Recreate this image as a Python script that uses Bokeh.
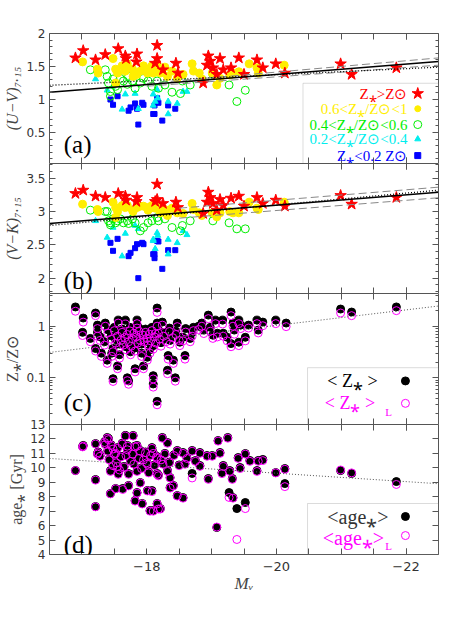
from bokeh.plotting import figure
from bokeh.layouts import column
from bokeh.models import Range1d, FixedTicker, LinearAxis, LogAxis, Label, BoxAnnotation
from bokeh.embed import file_html
from bokeh.resources import INLINE

# ---------------- data: panels (a) and (b) ----------------
MV_red = [-16.90, -17.02, -17.21, -17.36, -17.56, -17.67, -17.68, -17.85, -17.84, -18.16, -18.16,
          -18.13, -18.25, -18.45, -18.48, -18.87, -18.95, -18.93, -18.98, -19.02, -19.08, -19.13,
          -19.18, -19.30, -19.42, -19.50, -19.70, -19.79, -19.99, -20.13, -20.99, -21.16, -21.85]
UV_red = [1.63, 1.74, 1.60, 1.68, 1.77, 1.66, 1.62, 1.69, 1.57, 1.82, 1.62,
          1.55, 1.45, 1.55, 1.40, 1.25, 1.66, 1.52, 1.58, 1.48, 1.38, 1.62,
          1.45, 1.48, 1.63, 1.38, 1.60, 1.48, 1.54, 1.40, 1.54, 1.38, 1.48]
VK_red = [3.27, 3.32, 3.23, 3.21, 3.27, 3.23, 3.17, 3.21, 3.15, 3.41, 3.18,
          3.15, 3.12, 3.14, 3.06, 2.97, 3.29, 3.14, 3.21, 3.12, 3.02, 3.18,
          3.09, 3.20, 3.23, 3.08, 3.21, 3.12, 3.17, 3.08, 3.24, 3.11, 3.21]

MV_yel = [-17.01, -17.24, -17.25, -17.48, -17.52, -17.55, -17.62, -17.67, -17.70, -17.78, -17.79,
          -17.85, -17.90, -17.95, -18.01, -18.02, -18.08, -18.10, -18.16, -18.18, -17.52, -18.13,
          -18.21, -18.28, -18.32, -18.39, -18.47, -18.56, -18.70, -18.72, -18.81, -18.85, -19.01,
          -19.08, -19.13, -19.28, -19.33, -19.42, -19.58, -19.70, -19.72, -20.12]
UV_yel = [1.57, 1.46, 1.40, 1.62, 1.46, 1.40, 1.51, 1.43, 1.54, 1.46, 1.35,
          1.38, 1.43, 1.51, 1.40, 1.46, 1.51, 1.40, 1.54, 1.43, 1.25, 1.46,
          1.40, 1.49, 1.35, 1.43, 1.32, 1.38, 1.54, 1.43, 1.40, 1.31, 1.40,
          1.22, 1.32, 1.37, 1.40, 1.42, 1.54, 1.48, 1.40, 1.52]
VK_yel = [3.11, 3.03, 3.00, 3.14, 3.06, 3.00, 3.09, 3.06, 3.09, 3.02, 3.00,
          3.06, 3.08, 3.08, 3.06, 3.02, 3.09, 3.06, 3.09, 3.06, 2.91, 3.05,
          2.98, 3.03, 2.94, 3.05, 2.98, 2.97, 3.12, 3.03, 2.98, 2.94, 2.98,
          2.92, 2.98, 3.00, 2.98, 2.98, 3.14, 3.05, 3.03, 3.14]

MV_grn = [-17.13, -17.36, -17.39, -17.41, -17.44, -17.48, -17.52, -17.55, -17.59, -17.64, -17.70,
          -17.72, -17.78, -17.82, -17.90, -17.95, -18.02, -18.08, -18.16, -18.18, -17.44, -18.28,
          -18.39, -18.52, -18.55, -18.67, -19.02, -19.27, -19.39, -19.52]
UV_grn = [1.45, 1.45, 1.35, 1.25, 1.12, 1.31, 1.20, 1.15, 1.32, 1.28, 1.23,
          1.35, 1.28, 1.17, 1.25, 1.32, 1.28, 1.20, 1.28, 1.17, 1.05, 1.22,
          1.11, 1.09, 1.28, 1.22, 1.38, 1.22, 0.97, 1.14]
VK_grn = [3.02, 3.00, 3.00, 2.86, 2.83, 2.89, 2.83, 2.86, 2.89, 2.83, 2.86,
          2.82, 2.89, 2.83, 2.71, 2.76, 2.83, 2.86, 2.91, 2.86, 2.80, 2.89,
          2.76, 2.71, 2.79, 2.86, 2.86, 2.83, 2.74, 2.74]

MV_cyn = [-17.21, -17.39, -17.48, -17.62, -17.67, -17.82, -17.87, -18.10, -18.13, -18.16, -18.17,
          -18.10, -18.33, -18.47, -18.33, -18.62, -18.56]
UV_cyn = [1.31, 1.14, 1.20, 0.85, 1.08, 1.09, 0.86, 1.08, 0.97, 1.15, 1.02,
          0.91, 0.97, 0.94, 0.78, 1.12, 1.12]
VK_cyn = [2.86, 2.61, 2.76, 2.33, 2.67, 2.79, 2.74, 2.56, 2.44, 2.68, 2.64,
          2.58, 2.58, 2.53, 2.36, 2.65, 2.71]

MV_blu = [-17.44, -17.48, -17.55, -17.72, -17.75, -17.82, -17.85, -17.87, -17.93, -17.95, -18.10,
          -18.16, -18.18, -18.12, -18.12, -18.33, -18.44, -18.24]
UV_blu = [1.00, 0.92, 1.05, 0.83, 0.88, 0.94, 0.86, 0.62, 0.95, 0.92, 0.78,
          1.02, 0.95, 0.91, 0.78, 0.91, 0.86, 0.68]
VK_blu = [2.53, 2.41, 2.59, 2.33, 2.38, 2.45, 2.51, 2.00, 2.53, 2.51, 2.36,
          2.56, 2.55, 2.36, 2.30, 2.42, 2.42, 2.14]

FIT_MV = [-16.5, -22.5]
UV_fit = [1.108, 1.575]
UV_fit_dot = [1.215, 1.49]
VK_fit = [2.82, 3.29]
VK_fit_dot = [2.79, 3.32]
DASH_MV_a = [-18.0, -22.5]
UV_fit_hi = [1.243, 1.63]
UV_fit_lo = [1.202, 1.52]
DASH_MV_b = [-18.5, -22.5]
VK_fit_hi = [3.05, 3.365]
VK_fit_lo = [2.90, 3.206]

# ---------------- data: panel (c) ----------------
MV_c = [-16.90, -17.02, -17.01, -17.21, -17.13, -17.24, -17.24, -17.21, -17.36, -17.39, -17.48,
        -17.55, -17.48, -17.56, -17.67, -17.70, -17.72, -17.85, -17.85, -17.82, -17.95, -18.01,
        -18.10, -18.10, -18.16, -18.16, -18.16, -18.24, -18.13, -18.33, -18.44, -18.32, -18.47,
        -18.56, -18.67, -18.72, -18.85, -18.95, -18.98, -19.06, -19.17, -19.30, -19.33, -19.35,
        -19.30, -19.42, -19.52, -19.45, -19.57, -19.70, -19.79, -19.72, -19.99, -20.15, -18.59,
        -18.41, -18.51, -18.36, -19.09, -19.18, -19.24, -19.42, -18.88, -19.02, -20.99, -21.16,
        -21.85,
        -17.40, -17.45, -17.50, -17.52, -17.55, -17.58, -17.60, -17.62, -17.64, -17.66, -17.68,
        -17.70, -17.72, -17.74, -17.76, -17.78, -17.80, -17.82, -17.84, -17.86, -17.88, -17.90,
        -17.92, -17.94, -17.96, -17.98, -18.00, -18.02, -18.04, -18.06, -18.08, -18.10, -18.12,
        -18.14, -18.18, -18.20, -18.22, -18.26, -18.30, -18.35, -18.40, -18.45, -18.50, -18.60,
        -18.70, -18.80, -17.30, -17.35, -17.46, -17.58, -17.75, -17.92, -18.05, -17.28]
Z_mean = [2.36, 1.44, 0.76, 1.80, 0.58, 1.05, 0.76, 0.37, 1.15, 0.22, 0.37,
          0.17, 0.096, 1.31, 1.31, 0.10, 0.087, 1.31, 1.05, 0.15, 0.17, 0.25,
          0.11, 0.076, 1.15, 0.035, 2.25, 1.20, 0.84, 0.27, 0.10, 0.14, 1.15,
          0.61, 0.58, 0.95, 1.15, 1.64, 0.95, 1.31, 1.31, 1.88, 1.15, 0.84,
          0.46, 1.31, 0.61, 1.05, 1.05, 1.31, 1.20, 0.84, 1.31, 1.15, 0.27,
          0.22, 0.49, 0.53, 0.73, 0.73, 0.61, 0.49, 0.84, 0.67, 2.15, 1.88,
          2.36,
          0.85, 0.65, 0.95, 0.55, 0.75, 0.45, 0.62, 0.88, 0.50, 0.70, 0.40,
          0.80, 0.58, 0.95, 0.48, 0.66, 0.85, 0.38, 0.72, 0.55, 0.92, 0.62,
          0.45, 0.78, 0.58, 0.88, 0.68, 0.50, 0.82, 0.60, 0.95, 0.42, 0.72,
          0.55, 0.85, 0.65, 0.48, 0.75, 0.58, 0.92, 0.70, 0.80, 0.62, 0.90,
          0.75, 1.00, 0.30, 0.50, 0.30, 0.28, 0.32, 0.30, 0.35, 0.62]
Z_lum = [1.95, 1.20, 0.66, 1.60, 0.50, 0.90, 0.64, 0.33, 1.00, 0.19, 0.32,
         0.15, 0.085, 1.15, 1.10, 0.088, 0.075, 1.12, 0.92, 0.13, 0.15, 0.22,
         0.095, 0.066, 1.00, 0.030, 1.85, 1.05, 0.72, 0.23, 0.086, 0.12, 0.98,
         0.52, 0.50, 0.82, 1.00, 1.40, 0.80, 1.12, 1.10, 1.60, 1.00, 0.70,
         0.40, 1.12, 0.52, 0.90, 0.92, 1.12, 1.02, 0.74, 1.12, 0.98, 0.23,
         0.19, 0.42, 0.45, 0.62, 0.64, 0.52, 0.42, 0.72, 0.58, 1.80, 1.60,
         2.00,
         0.74, 0.56, 0.82, 0.47, 0.64, 0.39, 0.53, 0.76, 0.43, 0.60, 0.35,
         0.69, 0.50, 0.81, 0.41, 0.57, 0.73, 0.33, 0.62, 0.47, 0.79, 0.53,
         0.39, 0.67, 0.50, 0.76, 0.58, 0.43, 0.70, 0.52, 0.82, 0.36, 0.62,
         0.47, 0.73, 0.56, 0.41, 0.64, 0.50, 0.79, 0.60, 0.69, 0.53, 0.77,
         0.64, 0.86, 0.26, 0.43, 0.26, 0.24, 0.28, 0.26, 0.30, 0.53]
Z_fit = [0.31, 2.46]

# ---------------- data: panel (d) ----------------
MV_d = [-16.90, -17.01, -17.02, -17.21, -17.24, -17.28, -17.21, -17.21, -17.36, -17.39, -17.41,
        -17.44, -17.48, -17.52, -17.55, -17.56, -17.44, -17.52, -17.63, -17.67, -17.70, -17.72,
        -17.79, -17.85, -17.82, -17.85, -17.90, -17.93, -18.01, -18.01, -18.08, -18.10, -18.16,
        -18.16, -18.18,
        -18.24, -18.32, -18.10, -18.16, -18.25, -18.32, -18.36, -18.41, -18.47, -18.21, -18.05,
        -18.47, -18.56, -18.70, -18.59, -18.82, -18.82, -18.93, -18.95, -19.01, -19.10, -19.13,
        -19.08, -19.18, -19.16, -19.25, -19.28, -19.32, -19.27, -19.33, -19.39, -19.41, -19.44,
        -19.52, -19.52, -19.59, -19.70, -19.72, -19.79, -19.99, -20.13, -20.13, -18.56, -18.36,
        -18.70, -20.99, -21.16, -21.85,
        -17.40, -17.42, -17.45, -17.48, -17.50, -17.53, -17.55, -17.58, -17.60, -17.62, -17.65,
        -17.68, -17.70, -17.72, -17.75, -17.78, -17.80, -17.82, -17.85, -17.88, -17.90, -17.92,
        -17.95, -17.98, -18.00, -18.03, -18.06, -18.08, -18.12, -18.15, -18.18, -18.22, -18.28,
        -18.35, -18.42, -18.50, -18.62, -18.75, -17.35, -17.25]
AGE_mean = [9.81, 11.48, 11.55, 11.68, 10.99, 10.85, 9.19, 7.32, 11.68, 12.10, 12.03,
            9.81, 11.34, 11.06, 10.16, 9.61, 8.22, 8.57, 8.57, 12.24, 11.55, 8.78,
            12.24, 11.55, 7.74, 8.29, 8.98, 7.53, 10.30, 8.43, 8.43, 7.04, 9.61,
            7.53, 7.18,
            12.10, 11.75, 11.06, 10.71, 10.30, 9.81, 9.33, 8.78, 8.08, 7.18, 7.04,
            11.20, 11.06, 11.20, 10.30, 11.06, 10.16, 10.85, 9.26, 10.85, 11.89, 11.06,
            5.87, 10.16, 9.67, 12.10, 9.81, 9.26, 8.29, 7.94, 7.18, 10.71, 10.02,
            10.99, 7.60, 10.51, 9.81, 10.51, 10.58, 9.67, 9.95, 8.91, 7.94, 8.64,
            9.61, 9.81, 9.61, 9.05,
            11.2, 10.6, 11.6, 10.2, 11.0, 10.4, 11.4, 9.9, 10.8, 11.7, 10.1,
            10.9, 11.3, 9.6, 10.5, 11.0, 10.3, 11.5, 9.8, 10.7, 11.2, 10.0,
            10.6, 11.1, 10.4, 9.7, 10.9, 11.4, 10.2, 10.8, 9.5, 10.6, 11.0,
            10.4, 10.9, 10.2, 10.7, 10.5, 11.8, 11.1]
AGE_lum = [9.81, 11.45, 11.50, 11.65, 10.95, 10.80, 9.15, 7.30, 11.60, 12.05, 11.95,
           9.75, 11.30, 11.00, 10.10, 9.55, 8.20, 8.55, 8.50, 12.20, 11.50, 8.75,
           12.20, 11.50, 7.70, 8.25, 8.95, 7.50, 10.25, 8.40, 8.35, 7.00, 9.55,
           7.50, 7.15,
           12.05, 11.70, 11.00, 10.65, 10.25, 9.75, 9.30, 8.75, 8.05, 7.15, 7.00,
           11.15, 11.00, 11.15, 10.25, 11.00, 10.10, 10.80, 9.20, 10.80, 11.85, 11.00,
           5.90, 10.10, 9.60, 12.05, 9.75, 9.20, 7.95, 7.90, 5.04, 10.65, 9.95,
           10.95, 7.18, 10.45, 9.75, 10.45, 10.50, 9.65, 9.90, 8.70, 7.90, 8.60,
           9.30, 9.85, 9.65, 8.85,
           11.15, 10.55, 11.55, 10.15, 10.95, 10.35, 11.35, 9.85, 10.75, 11.65, 10.05,
           10.85, 11.25, 9.55, 10.45, 10.95, 10.25, 11.45, 9.75, 10.65, 11.15, 9.95,
           10.55, 11.05, 10.35, 9.65, 10.85, 11.35, 10.15, 10.75, 9.45, 10.55, 10.95,
           10.35, 10.85, 10.15, 10.65, 10.45, 11.75, 11.05]
AGE_fit = [10.65, 8.90]

X_MAJOR = [-18, -20, -22]
X_MINOR = [-17, -17.5, -18.5, -19, -19.5, -20.5, -21, -21.5, -22]
X_LABELS = {-18: "\u221218", -20: "\u221220", -22: "\u221222"}

# ---------------- styling helpers ----------------
AX_COL = "#555555"
FW = 389
LEFT = 49
SERIF = "Liberation Serif"


def style_axis(ax, show_labels):
    ax.axis_line_color = AX_COL
    ax.major_tick_line_color = AX_COL
    ax.minor_tick_line_color = AX_COL
    ax.major_tick_in = 6
    ax.major_tick_out = 0
    ax.minor_tick_in = 3
    ax.minor_tick_out = 0
    if show_labels:
        ax.major_label_text_font = "DejaVu Sans"
        ax.major_label_text_font_size = "12px"
        ax.major_label_text_color = "#333333"
        ax.major_label_standoff = 4
    else:
        ax.major_label_text_color = None
        ax.major_label_text_alpha = 0
        ax.major_label_text_font_size = "0px"
        ax.major_label_standoff = 0


def make_panel(yr, fh, log=False, top=0, bottom=0, yticks=None, yminor=None, ylabels=None,
               ylabel="", ylabel_italic=False, xlabels=False):
    p = figure(frame_width=FW, frame_height=fh, x_range=Range1d(-16.5, -22.5), y_range=yr,
               y_axis_type="log" if log else "linear", x_axis_location=None, y_axis_location=None,
               output_backend="svg", toolbar_location=None, min_border_left=LEFT,
               min_border_right=12, min_border_top=top, min_border_bottom=bottom,
               border_fill_color=None, outline_line_color=None)
    p.xgrid.visible = False
    p.ygrid.visible = False
    AxY = LogAxis if log else LinearAxis
    yt = FixedTicker(ticks=yticks, minor_ticks=yminor)
    xt = FixedTicker(ticks=X_MAJOR, minor_ticks=X_MINOR)
    left = AxY(ticker=yt)
    style_axis(left, True)
    left.major_label_overrides = ylabels
    left.axis_label = ylabel
    left.axis_label_text_font = SERIF
    left.axis_label_text_font_size = "16px"
    left.axis_label_text_font_style = "italic" if ylabel_italic else "normal"
    left.axis_label_standoff = 2
    right = AxY(ticker=yt)
    style_axis(right, False)
    above = LinearAxis(ticker=xt)
    style_axis(above, False)
    above.minor_tick_in = 6
    below = LinearAxis(ticker=xt)
    if xlabels:
        style_axis(below, True)
        below.major_label_overrides = X_LABELS
        below.major_label_text_font_size = "13px"
        below.major_label_standoff = 7
        below.axis_label = "M\u1d65"
        below.axis_label_text_font = SERIF
        below.axis_label_text_font_style = "italic"
        below.axis_label_text_font_size = "17px"
        below.axis_label_standoff = 0
    else:
        style_axis(below, False)
    below.minor_tick_in = 6
    p.add_layout(left, "left")
    p.add_layout(right, "right")
    p.add_layout(above, "above")
    p.add_layout(below, "below")
    return p


def tag(p, x, y, s):
    p.add_layout(Label(x=x, y=y, text=s, text_font=SERIF, text_font_size="25px",
                       text_color="black", text_baseline="alphabetic"))


def ltext(p, x, y, s, color, size="15px", align="right", baseline="middle"):
    p.add_layout(Label(x=x, y=y, text=s, text_font=SERIF, text_font_size=size,
                       text_color=color, text_align=align, text_baseline=baseline))


RED, YEL, GRN, CYN, BLU, MAG = "#ff0000", "#ffee00", "#00ee00", "#00eeee", "#0000ff", "#ff00ff"

# ---------------- panel (a) ----------------
pa = make_panel(Range1d(0.03, 2.0), 130, top=33,
                yticks=[0.5, 1.0, 1.5, 2.0],
                yminor=[0.1, 0.2, 0.3, 0.4, 0.6, 0.7, 0.8, 0.9, 1.1, 1.2, 1.3, 1.4, 1.6, 1.7, 1.8, 1.9],
                ylabels={1.0: "1", 2.0: "2", 0.5: "0.5", 1.5: "1.5"},
                ylabel="(U\u2212V)\u2087.\u2081\u2085", ylabel_italic=True)
pa.scatter(MV_blu, UV_blu, marker="square", size=5, color=BLU)
pa.scatter(MV_cyn, UV_cyn, marker="triangle", size=6, color=CYN)
pa.scatter(MV_grn, UV_grn, marker="circle", size=8, fill_color=None, line_color=GRN, line_width=1)
pa.scatter(MV_yel, UV_yel, marker="circle", size=8, color=YEL)
pa.scatter(MV_red, UV_red, marker="star", size=12, color=RED)
pa.line(DASH_MV_a, UV_fit_hi, line_color="#888888", line_dash="8 4", line_width=1)
pa.line(DASH_MV_a, UV_fit_lo, line_color="#888888", line_dash="8 4", line_width=1)
pa.line(FIT_MV, UV_fit_dot, line_color="black", line_dash="1 2", line_width=1.3)
pa.line(FIT_MV, UV_fit, line_color="black", line_width=1.5)
tag(pa, -16.72, 0.32, "(a)")
pa.add_layout(BoxAnnotation(left=-20.41, top=1.246, fill_alpha=0, fill_color=None,
                            line_color="#888888", line_width=1))
LX_T, LX_M = -22.02, -22.18
leg_a = [(1.09, "Z\u204e>Z\u2299", RED, "star"), (0.86, "0.6<Z\u204e/Z\u2299<1", YEL, "circle"),
         (0.62, "0.4<Z\u204e/Z\u2299<0.6", GRN, "open"), (0.40, "0.2<Z\u204e/Z\u2299<0.4", CYN, "triangle"),
         (0.15, "Z\u204e<0.2 Z\u2299", BLU, "square")]
for yy, s, c, m in leg_a:
    ltext(pa, LX_T, yy, s, c)
    if m == "open":
        pa.scatter([LX_M], [yy], marker="circle", size=8, fill_color=None, line_color=c)
    elif m == "star":
        pa.scatter([LX_M], [yy], marker="star", size=12, color=c)
    else:
        pa.scatter([LX_M], [yy], marker=m, size=6, color=c)

# ---------------- panel (b) ----------------
pb = make_panel(Range1d(1.77, 3.72), 130,
                yticks=[2.0, 2.5, 3.0, 3.5],
                yminor=[1.8, 1.9, 2.1, 2.2, 2.3, 2.4, 2.6, 2.7, 2.8, 2.9, 3.1, 3.2, 3.3, 3.4, 3.6, 3.7],
                ylabels={2.0: "2", 2.5: "2.5", 3.0: "3", 3.5: "3.5"},
                ylabel="(V\u2212K)\u2087.\u2081\u2085", ylabel_italic=True)
pb.scatter(MV_blu, VK_blu, marker="square", size=5, color=BLU)
pb.scatter(MV_cyn, VK_cyn, marker="triangle", size=6, color=CYN)
pb.scatter(MV_grn, VK_grn, marker="circle", size=8, fill_color=None, line_color=GRN, line_width=1)
pb.scatter(MV_yel, VK_yel, marker="circle", size=8, color=YEL)
pb.scatter(MV_red, VK_red, marker="star", size=12, color=RED)
pb.line(DASH_MV_b, VK_fit_hi, line_color="#888888", line_dash="8 4", line_width=1)
pb.line(DASH_MV_b, VK_fit_lo, line_color="#888888", line_dash="8 4", line_width=1)
pb.line(FIT_MV, VK_fit_dot, line_color="black", line_dash="1 2", line_width=1.3)
pb.line(FIT_MV, VK_fit, line_color="black", line_width=1.5)
tag(pb, -16.72, 1.97, "(b)")

# ---------------- panel (c) ----------------
pc = make_panel(Range1d(0.01245, 4.3), 131, log=True,
                yticks=[0.1, 1.0],
                yminor=[0.02, 0.03, 0.04, 0.05, 0.06, 0.07, 0.08, 0.09, 0.2, 0.3, 0.4, 0.5, 0.6, 0.7,
                        0.8, 0.9, 2.0, 3.0, 4.0],
                ylabels={0.1: "0.1", 1.0: "1"},
                ylabel="Z\u204e/Z\u2299")
pc.scatter(MV_c, Z_mean, marker="circle", size=8, color="black")
pc.scatter(MV_c, Z_lum, marker="circle", size=8, fill_color=None, line_color=MAG, line_width=1)
pc.line(FIT_MV, Z_fit, line_color="#555555", line_dash="1 2", line_width=1)
tag(pc, -16.72, 0.0332, "(c)")
pc.add_layout(BoxAnnotation(left=-20.48, top=0.157, fill_alpha=0, fill_color=None,
                            line_color="#888888", line_width=1))
ltext(pc, -21.70, 0.087, "<  Z\u204e  >", "black", size="18px")
pc.scatter([-21.99], [0.087], marker="circle", size=8, color="black")
ltext(pc, -21.66, 0.032, "<  Z\u204e  >", MAG, size="18px")
ltext(pc, -21.68, 0.022, "L", MAG, size="11px", align="left")
pc.scatter([-21.99], [0.032], marker="circle", size=8, fill_color=None, line_color=MAG)

# ---------------- panel (d) ----------------
pd_ = make_panel(Range1d(4.0, 13.0), 130, top=8, bottom=50,
                 yticks=[4, 5, 6, 7, 8, 9, 10, 11, 12, 13], yminor=[],
                 ylabels={v: str(v) for v in [4, 5, 6, 7, 8, 9, 10, 11, 12, 13]},
                 ylabel="age\u204e [Gyr]", xlabels=True)
pd_.styles = {"margin-top": "-8px", "position": "relative", "z-index": "2"}
pd_.scatter(MV_d, AGE_mean, marker="circle", size=8, color="black")
pd_.scatter(MV_d, AGE_lum, marker="circle", size=8, fill_color=None, line_color=MAG, line_width=1)
pd_.line(FIT_MV, AGE_fit, line_color="#555555", line_dash="1 2", line_width=1)
tag(pd_, -16.72, 4.69, "(d)")
pd_.add_layout(BoxAnnotation(left=-20.48, top=7.53, fill_alpha=0, fill_color=None,
                             line_color="#888888", line_width=1))
ltext(pd_, -21.73, 6.63, "<age\u204e>", "#333333", size="20px")
pd_.scatter([-21.99], [6.63], marker="circle", size=8, color="black")
ltext(pd_, -21.66, 5.17, "<age\u204e>", MAG, size="20px")
ltext(pd_, -21.68, 4.62, "L", MAG, size="11px", align="left")
pd_.scatter([-21.99], [5.31], marker="circle", size=8, fill_color=None, line_color=MAG)

layout = column(pa, pb, pc, pd_, spacing=0)
open("out.html", "w").write(file_html(layout, INLINE))
